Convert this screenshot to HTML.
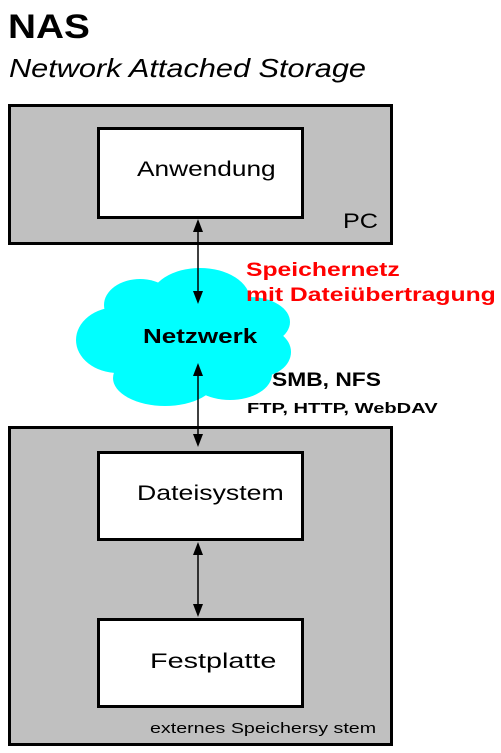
<!DOCTYPE html>
<html><head><style>
body{margin:0;width:501px;height:753px;background:#fff;position:relative;font-family:"Liberation Sans",sans-serif;overflow:hidden}
.t{position:absolute;white-space:nowrap;transform-origin:0 0}
</style></head><body>
<svg width="501" height="753" style="position:absolute;left:0;top:0">
<rect x="9.5" y="105.5" width="382" height="138" fill="#c0c0c0" stroke="#000" stroke-width="3"/>
<rect x="98.5" y="128.5" width="204" height="89" fill="#fff" stroke="#000" stroke-width="3"/>
<rect x="9.5" y="427.5" width="382" height="317" fill="#c0c0c0" stroke="#000" stroke-width="3"/>
<rect x="98.5" y="452.5" width="204" height="87" fill="#fff" stroke="#000" stroke-width="3"/>
<rect x="98.5" y="619.5" width="204" height="87" fill="#fff" stroke="#000" stroke-width="3"/>
<g fill="#00ffff">
<ellipse cx="140" cy="305" rx="36" ry="26"/>
<ellipse cx="200" cy="300" rx="50" ry="32"/>
<ellipse cx="250" cy="322" rx="40" ry="25"/>
<ellipse cx="118" cy="340" rx="42" ry="33"/>
<ellipse cx="185" cy="345" rx="85" ry="45"/>
<ellipse cx="258" cy="352" rx="33" ry="25"/>
<ellipse cx="165" cy="378" rx="52" ry="28"/>
<ellipse cx="230" cy="374" rx="42" ry="26"/>
</g>
<g stroke="#000" stroke-width="1.5">
<line x1="198" y1="230" x2="198" y2="293"/>
<line x1="198" y1="375" x2="198" y2="434"/>
<line x1="198" y1="553" x2="198" y2="605"/>
</g>
<g fill="#000">
<path d="M193,232 L203,232 L198,219 z"/><path d="M193,291 L203,291 L198,304 z"/>
<path d="M193,376 L203,376 L198,363 z"/><path d="M193,434 L203,434 L198,447 z"/>
<path d="M193,555 L203,555 L198,542 z"/><path d="M193,604 L203,604 L198,617 z"/>
</g>
</svg>
<div class="t" style="left:8px;top:8px;font-size:34px;font-weight:bold;transform:scaleX(1.14)">NAS</div>
<div class="t" style="left:9px;top:53px;font-size:26px;font-style:italic;transform:scaleX(1.18)">Network Attached Storage</div>
<div class="t" style="left:137px;top:158px;font-size:21px;transform:scaleX(1.25)">Anwendung</div>
<div class="t" style="left:343px;top:210px;font-size:21px;transform:scaleX(1.2)">PC</div>
<div class="t" style="left:246px;top:258px;font-size:19px;font-weight:bold;color:#f00;line-height:25px;transform:scaleX(1.3)">Speichernetz<br>mit Dateiübertragung</div>
<div class="t" style="left:143px;top:326px;font-size:20px;font-weight:bold;transform:scaleX(1.3)">Netzwerk</div>
<div class="t" style="left:272px;top:370px;font-size:19px;font-weight:bold;transform:scaleX(1.2)">SMB, NFS</div>
<div class="t" style="left:247px;top:400px;font-size:15px;font-weight:bold;transform:scaleX(1.34)">FTP, HTTP, WebDAV</div>
<div class="t" style="left:137px;top:482px;font-size:21px;transform:scaleX(1.27)">Dateisystem</div>
<div class="t" style="left:150px;top:650px;font-size:21px;transform:scaleX(1.37)">Festplatte</div>
<div class="t" style="left:150px;top:720px;font-size:15px;transform:scaleX(1.31)">externes Speichersy stem</div>
</body></html>
